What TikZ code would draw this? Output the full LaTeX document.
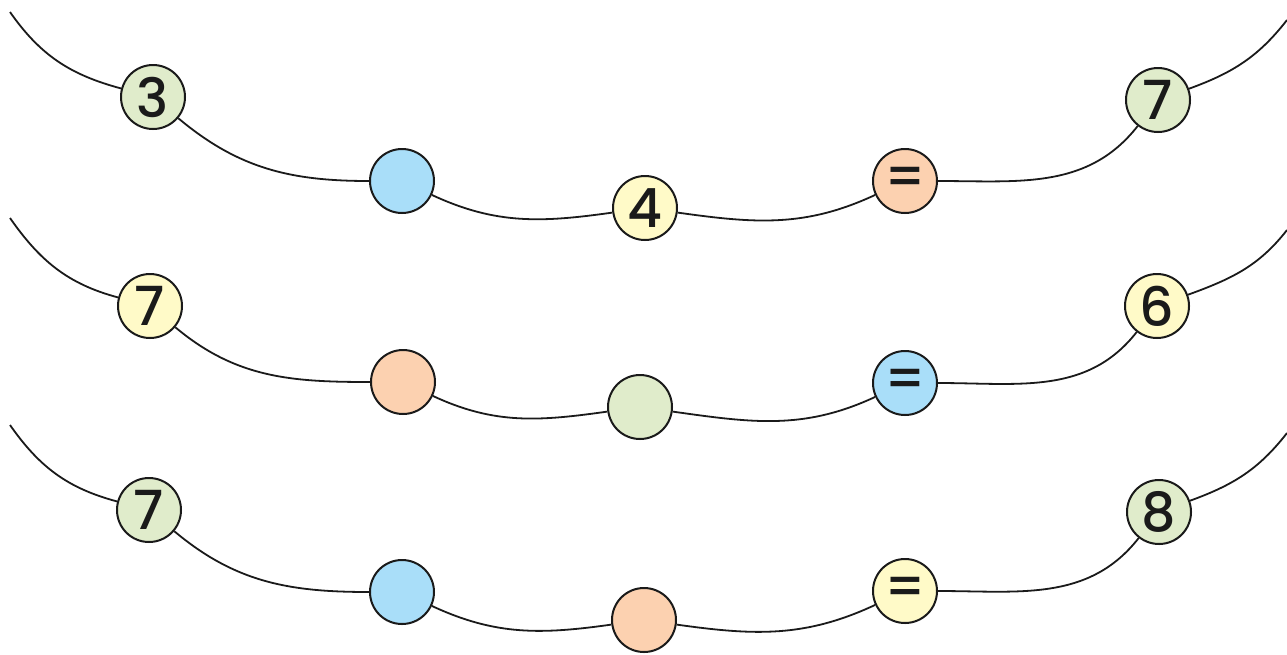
\documentclass[tikz,border=0pt]{standalone}
\usepackage{fontspec}
\setmainfont{Poppins}[BoldFont={Poppins Medium}]
\definecolor{bgreen}{HTML}{E0ECCB}
\definecolor{bblue}{HTML}{A9DEF9}
\definecolor{byellow}{HTML}{FFFAC8}
\definecolor{borange}{HTML}{FCD1B0}
\definecolor{ink}{HTML}{1A1A1A}
\begin{document}
\begin{tikzpicture}[x=1pt,y=-1pt,
  bead/.style={circle,draw=ink,line width=2pt,minimum size=64pt,inner sep=0pt,
    font=\fontsize{54}{54}\selectfont\bfseries,text=ink},
  string/.style={draw=ink,line width=1.8pt}]
\useasboundingbox (0,0) rectangle (1287,654);
% Row 1
\coordinate (s1) at (10,12);
\coordinate (e1) at (1287,20);
\node[bead,fill=bgreen] (a1) at (153,97) {3};
\node[bead,fill=bblue] (b1) at (402,181) {};
\node[bead,fill=byellow] (c1) at (645,208) {4};
\node[bead,fill=borange] (d1) at (905,181) {=};
\node[bead,fill=bgreen] (f1) at (1158,100) {7};
% Row 2
\coordinate (s2) at (10,218);
\coordinate (e2) at (1287,230);
\node[bead,fill=byellow] (a2) at (150,306) {7};
\node[bead,fill=borange] (b2) at (403,382) {};
\node[bead,fill=bgreen] (c2) at (640,407) {};
\node[bead,fill=bblue] (d2) at (905,383) {=};
\node[bead,fill=byellow] (f2) at (1157,306) {6};
% Row 3
\coordinate (s3) at (10,425);
\coordinate (e3) at (1287,433);
\node[bead,fill=bgreen] (a3) at (149,510) {7};
\node[bead,fill=bblue] (b3) at (402,592) {};
\node[bead,fill=borange] (c3) at (644,620) {};
\node[bead,fill=byellow] (d3) at (905,591) {=};
\node[bead,fill=bgreen] (f3) at (1159,512) {8};
\foreach \r in {1,2,3}{
  \draw[string] (s\r) to[out=-55,in=165] (a\r);
  \draw[string] (a\r) to[out=-40,in=180] (b\r);
  \draw[string] (b\r) to[out=-25,in=188] (c\r);
  \draw[string] (c\r) to[out=-8,in=205] (d\r);
  \draw[string] (d\r) to[out=0,in=232] (f\r);
  \draw[string] (f\r) to[out=20,in=232] (e\r);
}
\end{tikzpicture}
\end{document}
